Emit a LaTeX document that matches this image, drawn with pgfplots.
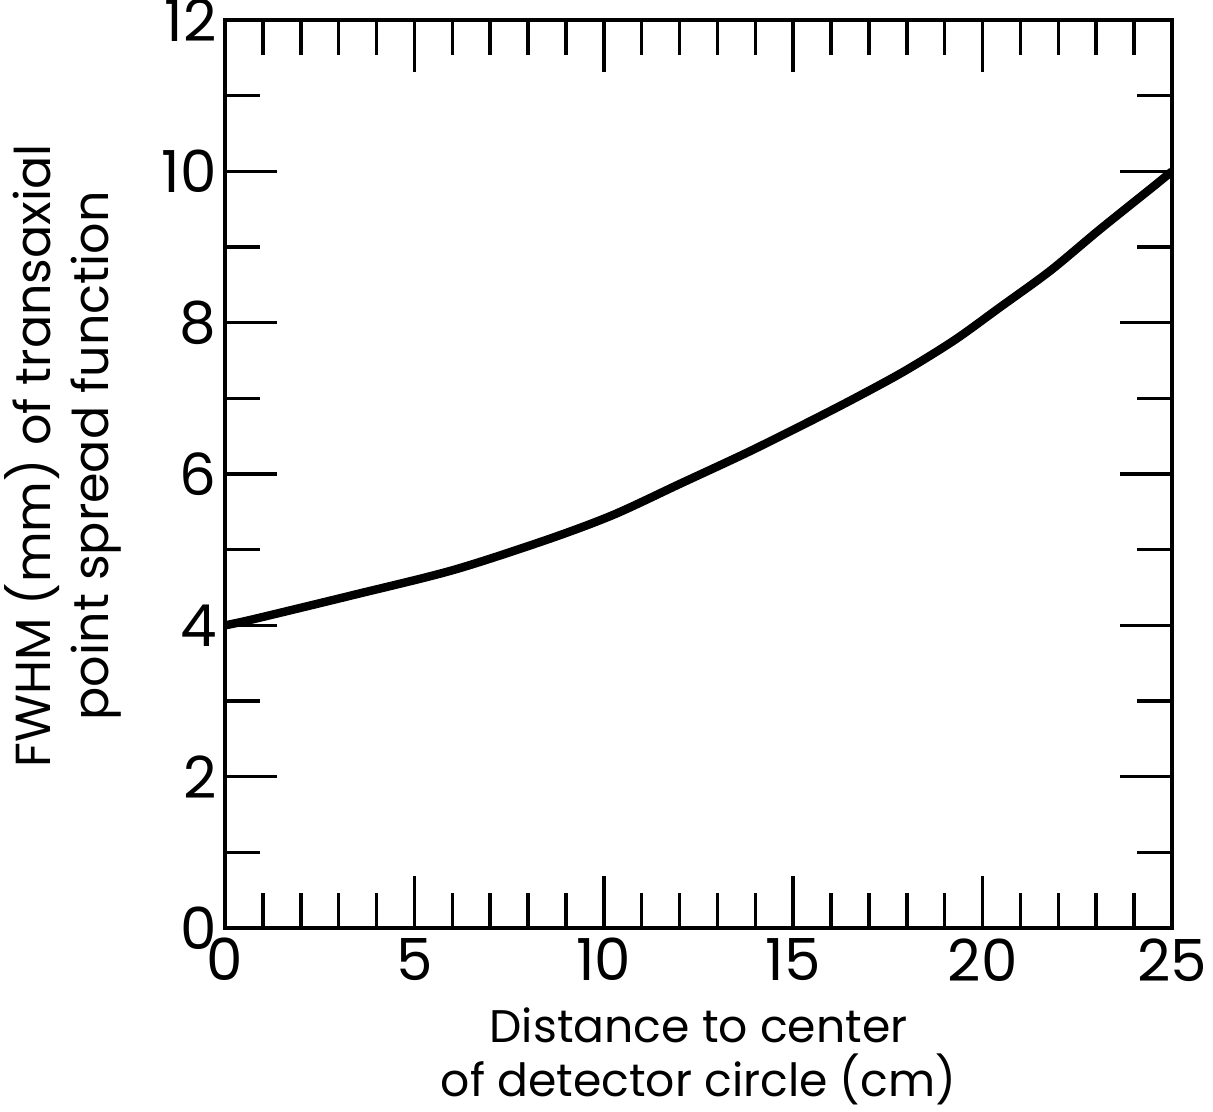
\documentclass[border=0pt]{standalone}
\usepackage{fontspec}
\setmainfont{Poppins}
\usepackage{pgfplots}
\pgfplotsset{compat=1.18}
\usetikzlibrary{calc}
\begin{document}
\begin{tikzpicture}
\begin{axis}[
  scale only axis, width=94.7mm, height=90.8mm,
  xmin=0, xmax=25, ymin=0, ymax=12,
  xtick={0,5,...,25}, ytick={0,2,...,12},
  minor x tick num=4, minor y tick num=1,
  tick align=inside, xtick pos=both, ytick pos=both,
  major tick length=5.2mm, minor tick length=3.5mm,
  every tick/.style={black, line width=1pt},
  axis line style={line width=1.2pt},
  /pgf/number format/assume math mode=true,
  ticklabel style={font=\fontsize{16.5}{18}\selectfont},
  xticklabel style={yshift=0.2mm},
  yticklabel style={xshift=0.4mm},
  xlabel={Distance to center\\of detector circle (cm)},
  ylabel={FWHM (mm) of transaxial\\point spread function},
  label style={align=center},
  xlabel style={font=\fontsize{13}{15.5}\selectfont, at={(axis description cs:0.5,0)}, anchor=north, yshift=-6.7mm},
  ylabel style={font=\fontsize{14}{16.5}\selectfont, at={(axis description cs:0,0.52)}, anchor=south, yshift=9.1mm},
]
\addplot[black, line width=2.4pt, smooth] coordinates {
  (0,4.00) (0.74,4.08) (3.38,4.40) (6.02,4.73) (8.49,5.13) (10.25,5.46)
  (12.01,5.87) (13.77,6.28) (15.30,6.66) (16.62,7.00) (17.94,7.36)
  (19.26,7.77) (20.45,8.20) (21.77,8.68) (23.09,9.23) (24.41,9.76) (25,10.00)
};
\end{axis}
\pgfresetboundingbox
\path[use as bounding box] ($(current axis.south west)+(-22.5mm,-18.3mm)$) rectangle ($(current axis.north east)+(4.1mm,2.0mm)$);
\end{tikzpicture}
\end{document}
